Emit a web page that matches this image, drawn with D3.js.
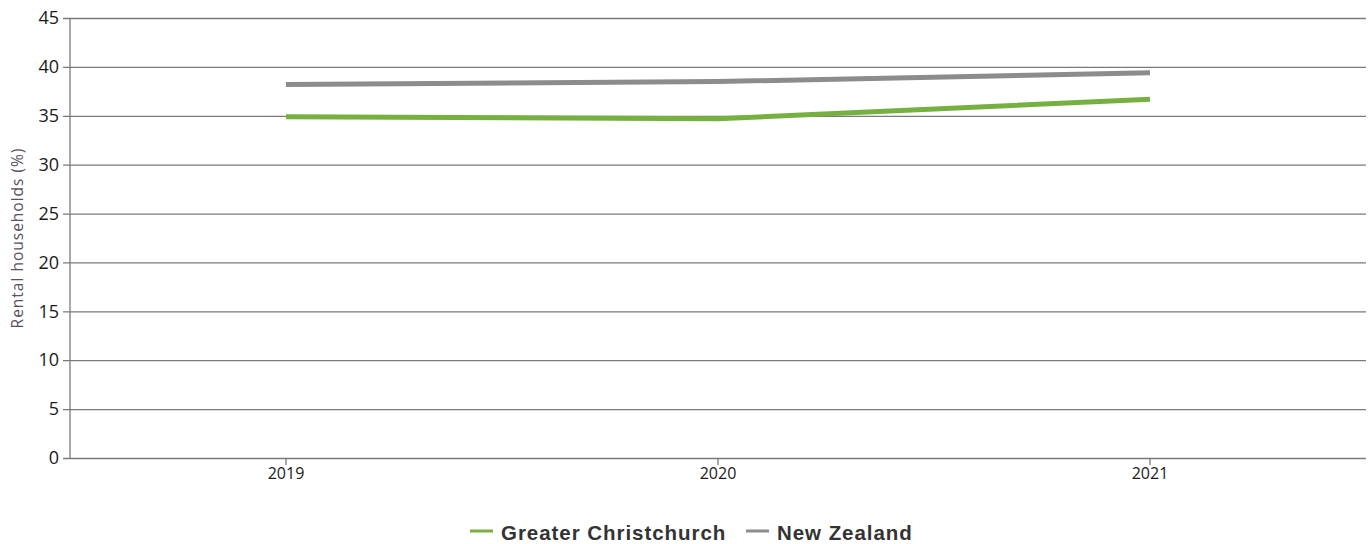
<!DOCTYPE html>
<html>
<head>
<meta charset="utf-8">
<script src="https://cdn.jsdelivr.net/npm/d3@7"></script>
<style>
  body { margin: 0; background: #fff; }
  text { font-family: "Open Sans", "Liberation Sans", sans-serif; }
</style>
</head>
<body>
<script>
// chart data
var years = ["2019", "2020", "2021"];
var christchurch = [34.9, 34.7, 36.7];
var newZealand = [38.2, 38.5, 39.4];
var seriesNames = ["Greater Christchurch", "New Zealand"];
var seriesColors = ["#76b041", "#8c8c8c"];
var yTicks = [0, 5, 10, 15, 20, 25, 30, 35, 40, 45];

var width = 1372, height = 544;
var margin = {top: 18, right: 6, bottom: 86, left: 70};

var svg = d3.select("body").append("svg")
    .attr("width", width)
    .attr("height", height);

var x = d3.scaleBand()
    .domain(years)
    .range([margin.left, width - margin.right]);

var y = d3.scaleLinear()
    .domain([0, 45])
    .range([height - margin.bottom, margin.top]);

// horizontal grid lines with left ticks
var yAxis = svg.append("g")
    .attr("transform", "translate(" + margin.left + ",0)")
    .call(d3.axisLeft(y).tickValues(yTicks).tickSize(7).tickPadding(4))
yAxis.select(".domain").remove();
yAxis.selectAll(".tick line")
    .attr("x2", width - margin.right - margin.left)
    .attr("x1", -7)
    .attr("stroke", "#7a7a7a")
    .attr("stroke-width", 1.3);
yAxis.selectAll(".tick text")
    .attr("fill", "#1a1a1a")
    .style("font-size", "18px");

// y axis vertical line
svg.append("line")
    .attr("x1", margin.left).attr("x2", margin.left)
    .attr("y1", y(45)).attr("y2", y(0))
    .attr("stroke", "#7a7a7a")
    .attr("stroke-width", 1.3);

// x axis
var xAxis = svg.append("g")
    .attr("transform", "translate(0," + y(0) + ")")
    .call(d3.axisBottom(x).tickSize(7).tickPadding(3));
xAxis.select(".domain").remove();
xAxis.selectAll(".tick line")
    .attr("stroke", "#7a7a7a")
    .attr("stroke-width", 1.3);
xAxis.selectAll(".tick text")
    .attr("fill", "#1a1a1a")
    .style("font-size", "16px");

// axis title
svg.append("text")
    .attr("transform", "translate(23," + ((y(0) + y(45)) / 2) + ") rotate(-90)")
    .attr("text-anchor", "middle")
    .attr("fill", "#5a5060")
    .style("font-size", "15.5px")
    .style("letter-spacing", "1px")
    .text("Rental households (%)");

var line = d3.line()
    .x(function(d, i) { return x(years[i]) + x.bandwidth() / 2; })
    .y(function(d) { return y(d); });

// grey first so the green sits on top
[newZealand, christchurch].forEach(function(values, k) {
    svg.append("path")
        .datum(values)
        .attr("fill", "none")
        .attr("stroke", k == 0 ? seriesColors[1] : seriesColors[0])
        .attr("stroke-width", 5)
        .attr("stroke-linecap", "butt")
        .attr("d", line);
});

// legend
var legend = svg.append("g")
    .attr("transform", "translate(470,532)");
var legendX = [0, 276];
seriesNames.forEach(function(name, i) {
    var g = legend.append("g").attr("transform", "translate(" + legendX[i] + ",0)");
    g.append("line")
        .attr("x1", 0).attr("x2", 23)
        .attr("y1", -1).attr("y2", -1)
        .attr("stroke", seriesColors[i])
        .attr("stroke-width", 3);
    g.append("text")
        .attr("x", 31)
        .attr("y", 8)
        .attr("fill", "#333")
        .style("font-family", "'Liberation Sans', Arial, sans-serif")
        .style("font-weight", "bold")
        .style("font-size", "20.5px")
        .style("letter-spacing", "0.95px")
        .text(name);
});
</script>
</body>
</html>
